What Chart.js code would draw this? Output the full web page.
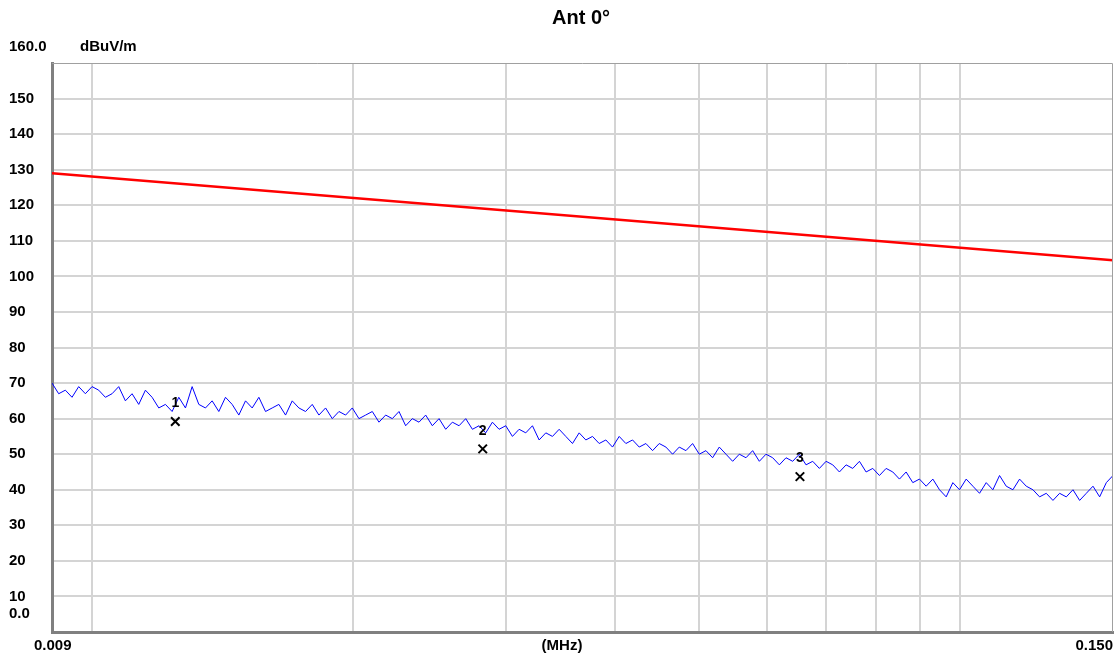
<!DOCTYPE html>
<html lang="en">
<head>
  <meta charset="UTF-8" />
  <title>Ant 0°</title>
  <script src="https://cdn.jsdelivr.net/npm/chart.js"></script>
  <style>
    body { margin: 0; background: #fff; }
    #wrap { width: 1117px; height: 659px; }
  </style>
</head>
<body>
  <div id="wrap"><canvas id="chart" width="1117" height="659"></canvas></div>
  <script>
    const fStart = 0.009;
    const fStop = 0.150;

    const traceValues = [
      70, 67, 68, 66, 69, 67, 69, 68, 66, 67, 69, 65, 67, 64, 68, 66, 63, 64, 62, 66,
      63, 69, 64, 63, 65, 62, 66, 64, 61, 65, 63, 66, 62, 63, 64, 61, 65, 63, 62, 64,
      61, 63, 60, 62, 61, 63, 60, 61, 62, 59, 61, 60, 62, 58, 60, 59, 61, 58, 60, 57,
      59, 58, 60, 57, 58, 56, 59, 57, 58, 55, 57, 56, 58, 54, 56, 55, 57, 55, 53, 56,
      54, 55, 53, 54, 52, 55, 53, 54, 52, 53, 51, 53, 52, 50, 52, 51, 53, 50, 51, 49,
      52, 50, 48, 50, 49, 51, 48, 50, 49, 47, 49, 48, 50, 47, 48, 46, 48, 47, 45, 47,
      46, 48, 45, 46, 44, 46, 45, 43, 45, 42, 43, 41, 43, 40, 38, 42, 40, 43, 41, 39,
      42, 40, 44, 41, 40, 43, 41, 40, 38, 39, 37, 39, 38, 40, 37, 39, 41, 38, 42, 44
    ];
    // sweep frequencies (MHz), log spaced between start and stop
    const traceFreqs = traceValues.map((v, i) =>
      fStart * Math.pow(fStop / fStart, i / (traceValues.length - 1)));

    const limitFreqs = [0.009, 0.150];
    const limitValues = [129, 104.5];

    const markerFreqs = [0.01248, 0.0282, 0.0654];
    const markerValues = [59.2, 51.5, 43.7];
    const markerNames = ["1", "2", "3"];

    const gridFreqs = [0.009, 0.01, 0.02, 0.03, 0.04, 0.05, 0.06, 0.07, 0.08, 0.09, 0.1, 0.15];
    const yTicks = [0, 10, 20, 30, 40, 50, 60, 70, 80, 90, 100, 110, 120, 130, 140, 150, 160];

    const tickFont = { family: "Liberation Sans, Arial", size: 15, weight: "bold" };

    const extras = {
      id: "extras",
      afterDraw(chart) {
        const ctx = chart.ctx;
        const a = chart.chartArea;
        const x = chart.scales.x, y = chart.scales.y;
        ctx.save();
        ctx.strokeStyle = "#a0a0a0";
        ctx.lineWidth = 1;
        ctx.beginPath();
        ctx.moveTo(a.left, a.top + 0.5); ctx.lineTo(a.right - 0.5, a.top + 0.5);
        ctx.lineTo(a.right - 0.5, a.bottom);
        ctx.stroke();

        ctx.fillStyle = "#000";
        ctx.font = "bold 20px Liberation Sans, Arial";
        ctx.textAlign = "center";
        ctx.textBaseline = "middle";
        ctx.fillText("Ant 0°", 581, 18);

        ctx.font = "bold 15px Liberation Sans, Arial";
        ctx.textAlign = "left";
        ctx.fillText("160.0", 9, 47);
        ctx.fillText("dBuV/m", 80, 47);
        ctx.fillText("0.0", 9, y.getPixelForValue(5));
        ctx.fillText("0.009", 34, 646);
        ctx.textAlign = "right";
        ctx.fillText("0.150", 1113, 646);
        ctx.textAlign = "center";
        ctx.fillText("(MHz)", 562, 646);

        ctx.font = "bold 14px Liberation Sans, Arial";
        markerFreqs.forEach((f, i) => {
          ctx.fillText(markerNames[i], x.getPixelForValue(f), y.getPixelForValue(markerValues[i]) - 18);
        });
        ctx.restore();
      }
    };

    new Chart(document.getElementById("chart"), {
      type: "scatter",
      data: {
        datasets: [
          {
            data: traceFreqs.map((f, i) => ({ x: f, y: traceValues[i] })),
            showLine: true, borderColor: "#0000ff", borderWidth: 1, pointRadius: 0
          },
          {
            data: limitFreqs.map((f, i) => ({ x: f, y: limitValues[i] })),
            showLine: true, borderColor: "#ff0000", borderWidth: 2.5, pointRadius: 0
          },
          {
            data: markerFreqs.map((f, i) => ({ x: f, y: markerValues[i] })),
            pointStyle: "crossRot", pointRadius: 6, borderColor: "#000", borderWidth: 2
          }
        ]
      },
      options: {
        responsive: false,
        animation: false,
        layout: { autoPadding: false, padding: { top: 63, right: 4, left: 9, bottom: 0 } },
        plugins: { legend: { display: false }, tooltip: { enabled: false } },
        scales: {
          x: {
            type: "logarithmic", min: fStart, max: fStop,
            afterBuildTicks: s => { s.ticks = gridFreqs.map(v => ({ value: v })); },
            afterFit: s => { s.height = 27; },
            grid: {
              color: c => (c.tick.value === fStart || c.tick.value === fStop) ? "rgba(0,0,0,0)" : "#d4d4d4",
              lineWidth: 2, drawTicks: false
            },
            border: { color: "#808080", width: 3 },
            ticks: { display: false }
          },
          y: {
            min: 0, max: 160,
            afterBuildTicks: s => { s.ticks = yTicks.map(v => ({ value: v })); },
            afterFit: s => { s.width = 43; },
            grid: { color: c => (c.tick.value === 0 || c.tick.value === 160) ? "rgba(0,0,0,0)" : "#d4d4d4", lineWidth: 2, drawTicks: false },
            border: { color: "#808080", width: 3 },
            ticks: {
              color: "#000", font: tickFont, padding: 0, crossAlign: "far",
              callback: v => (v === 0 || v === 160) ? "" : String(v)
            }
          }
        }
      },
      plugins: [extras]
    });
  </script>
</body>
</html>
